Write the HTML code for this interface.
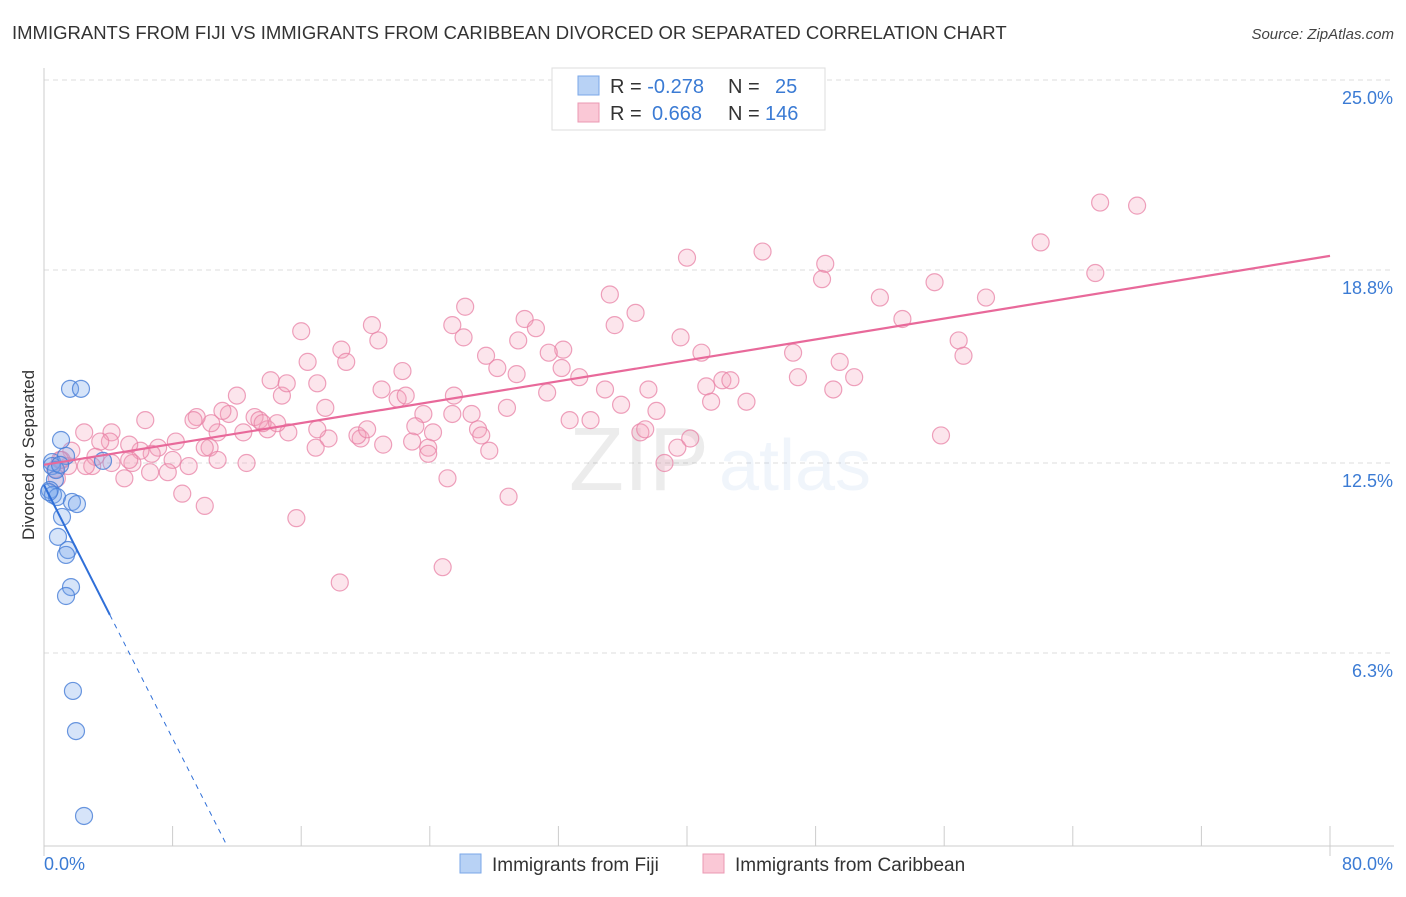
<!DOCTYPE html>
<html><head><meta charset="utf-8"><style>
body{margin:0;background:#fff;font-family:"Liberation Sans",sans-serif;}
svg text{font-family:"Liberation Sans",sans-serif;}
</style></head><body>
<svg id="chart" width="1406" height="892" viewBox="0 0 1406 892" xmlns="http://www.w3.org/2000/svg">
<text x="12" y="39" font-size="18.5" fill="#333">IMMIGRANTS FROM FIJI VS IMMIGRANTS FROM CARIBBEAN DIVORCED OR SEPARATED CORRELATION CHART</text>
<text x="1394" y="39" font-size="15" fill="#444" text-anchor="end" font-style="italic">Source: ZipAtlas.com</text>
<g id="grid"></g>
<g id="axes"></g>
<text x="720" y="490" font-size="90" text-anchor="middle" fill="#000" opacity="0.07" font-family="Liberation Serif">ZIP<tspan fill="#3b7bd4" opacity="1.6" font-family="Liberation Sans" font-size="72" dx="10">atlas</tspan></text>
<g id="pts"></g>
<g id="lines"></g>
<text transform="translate(34,455) rotate(-90)" font-size="17" fill="#333" text-anchor="middle">Divorced or Separated</text>
<g>
<rect x="552" y="68" width="273" height="62" fill="#fff" stroke="#ddd"/>
<rect x="578" y="76" width="21" height="19" fill="#b8d2f5" stroke="#7aa7e8"/>
<rect x="578" y="103" width="21" height="19" fill="#fac8d6" stroke="#eb98b3"/>
<text x="610" y="93" font-size="20" fill="#333">R = <tspan fill="#3b7bd4">-0.278</tspan><tspan x="728">N = </tspan><tspan x="775" fill="#3b7bd4">25</tspan></text>
<text x="610" y="120" font-size="20" fill="#333">R = <tspan x="652" fill="#3b7bd4">0.668</tspan><tspan x="728">N = </tspan><tspan x="765" fill="#3b7bd4">146</tspan></text>
</g>
<g>
<rect x="460" y="854" width="21" height="19" fill="#b8d2f5" stroke="#7aa7e8"/>
<text x="492" y="871" font-size="19" fill="#333">Immigrants from Fiji</text>
<rect x="703" y="854" width="21" height="19" fill="#fac8d6" stroke="#eb98b3"/>
<text x="735" y="871" font-size="19" fill="#333">Immigrants from Caribbean</text>
</g>
</svg>
<script>
const yTicks=[6.3,12.5,18.8,25.0];
const yTickLabels=["6.3%","12.5%","18.8%","25.0%"];
const xTickLabels=["0.0%","80.0%"];
const fijiX=[1.62,2.30,1.06,0.50,1.37,3.67,0.50,0.68,0.37,0.56,0.81,1.74,2.05,1.12,0.87,1.49,1.37,1.68,1.37,1.80,1.99,2.49,0.31,0.75,1.0];
const fijiY=[14.92,14.92,13.25,12.53,12.73,12.57,12.40,11.95,11.62,11.46,11.39,11.23,11.16,10.74,10.09,9.66,9.50,8.45,8.16,5.06,3.75,0.98,11.55,12.27,12.44];
const caribX=[65.7,68.0,62.0,65.4,55.4,58.6,52.0,53.4,56.9,57.2,48.6,48.4,44.7,40.0,35.2,36.8,35.5,26.2,25.4,26.1,29.9,30.6,29.5,27.5,28.2,29.4,32.3,31.4,32.2,33.3,34.9,31.3,32.7,34.0,35.9,37.6,38.1,37.1,37.4,38.6,39.4,40.2,39.6,40.9,41.2,41.5,42.2,42.7,43.7,46.6,46.9,49.5,50.4,49.1,55.8,16.0,16.4,18.5,18.8,20.4,20.8,22.3,21.0,22.0,22.5,23.6,23.1,24.2,23.9,23.9,25.4,26.6,27.0,27.2,27.7,28.8,28.9,25.1,24.8,25.5,22.9,21.1,19.7,19.5,20.1,17.5,17.7,17.0,16.9,18.4,15.7,15.2,14.8,14.1,15.1,17.0,13.1,13.4,13.9,13.6,14.5,12.4,12.6,12.0,11.5,11.1,10.8,10.4,9.5,9.3,10.3,10.8,9.0,8.6,10.0,8.0,8.2,7.7,7.1,6.7,6.6,6.3,6.0,5.5,5.3,5.0,4.2,4.1,3.5,3.0,2.5,3.2,1.7,1.5,1.1,0.7,1.0,4.2,2.6,10.0,0.8,5.3];
const caribY=[21.0,20.9,19.7,18.7,18.4,17.9,17.9,17.2,16.5,16.0,19.0,18.5,19.4,19.2,18.0,17.4,17.0,17.6,17.0,16.6,17.2,16.9,16.5,16.0,15.6,15.4,16.2,16.1,15.6,15.3,14.9,14.8,13.9,13.9,14.4,14.9,14.2,13.5,13.6,12.5,13.0,13.3,16.6,16.1,15.0,14.5,15.2,15.2,14.5,16.1,15.3,15.8,15.3,14.9,13.4,16.8,15.8,16.2,15.8,17.0,16.5,15.5,14.9,14.6,14.7,14.1,13.7,13.5,13.0,12.8,14.1,14.1,13.6,13.4,12.9,14.3,11.4,12.0,9.1,14.7,13.2,13.1,13.3,13.4,13.6,14.3,13.3,13.6,13.0,8.6,10.7,13.5,14.7,15.2,15.1,15.1,14.0,13.9,13.6,13.8,13.8,13.5,12.5,14.7,14.1,14.2,13.5,13.8,14.0,13.9,13.0,12.6,12.4,11.5,11.1,12.6,13.2,12.2,13.0,12.8,12.2,13.9,12.9,12.5,12.6,12.0,13.5,13.2,13.2,12.4,13.5,12.7,12.9,12.4,12.6,12.3,12.6,12.5,12.4,13.0,12.0,13.1];
const fijiTrend=[11.78,-1.034];
const caribTrend=[12.44,19.26];
const NS="http://www.w3.org/2000/svg";
const X0=44,X1=1330,Y0=846,PY=30.64;
const sx=v=>X0+v/80*(X1-X0);
const sy=v=>Y0-v*PY;
function mk(tag,attrs,parent){const e=document.createElementNS(NS,tag);for(const k in attrs)e.setAttribute(k,attrs[k]);parent.appendChild(e);return e;}
const grid=document.getElementById('grid'),axes=document.getElementById('axes'),pts=document.getElementById('pts'),lines=document.getElementById('lines');
yTicks.forEach((t,i)=>{
 const g=mk('line',{x1:X0,x2:1394,y1:sy(t),y2:sy(t),stroke:'#ddd','stroke-dasharray':'5,4'},grid);
 
 
 const tx=mk('text',{x:1393,y:sy(t)+24,'font-size':18,fill:'#3b7bd4','text-anchor':'end'},axes);
 
 
 tx.textContent=yTickLabels[i];
});
mk('line',{x1:X0,x2:X0,y1:68,y2:856,stroke:'#ccc'},axes);
mk('line',{x1:X0,x2:1394,y1:Y0,y2:Y0,stroke:'#ccc'},axes);
for(let k=1;k<=10;k++){mk('line',{x1:sx(k*8),x2:sx(k*8),y1:826,y2:k==10?856:846,stroke:'#ccc'},axes);}
const xl0=mk('text',{x:44,y:870,'font-size':18,fill:'#3b7bd4'},axes);


xl0.textContent=xTickLabels[0];
const xl1=mk('text',{x:1393,y:870,'font-size':18,fill:'#3b7bd4','text-anchor':'end'},axes);


xl1.textContent=xTickLabels[1];
caribX.forEach((x,i)=>{const c=mk('circle',{cx:sx(x),cy:sy(caribY[i]),r:8.5,fill:'rgba(244,160,188,0.28)',stroke:'rgba(232,130,165,0.75)','stroke-width':1.2},pts);
 
 });
fijiX.forEach((x,i)=>{const c=mk('circle',{cx:sx(x),cy:sy(fijiY[i]),r:8.5,fill:'rgba(120,165,235,0.3)',stroke:'rgba(70,125,215,0.8)','stroke-width':1.2},pts);
 
 });
const fy=x=>fijiTrend[0]+fijiTrend[1]*x;
const l1=mk('line',{x1:sx(0),y1:sy(fy(0)),x2:sx(4.1),y2:sy(fy(4.1)),stroke:'#2f6fd8','stroke-width':2},lines);


const xe=-fijiTrend[0]/fijiTrend[1];
const l2=mk('line',{x1:sx(4.1),y1:sy(fy(4.1)),x2:sx(xe),y2:sy(0),stroke:'#2f6fd8','stroke-width':1,'stroke-dasharray':'5,5'},lines);


const l3=mk('line',{x1:sx(0),y1:sy(caribTrend[0]),x2:sx(80),y2:sy(caribTrend[1]),stroke:'#e8699a','stroke-width':2.2},lines);


</script>
</body></html>
